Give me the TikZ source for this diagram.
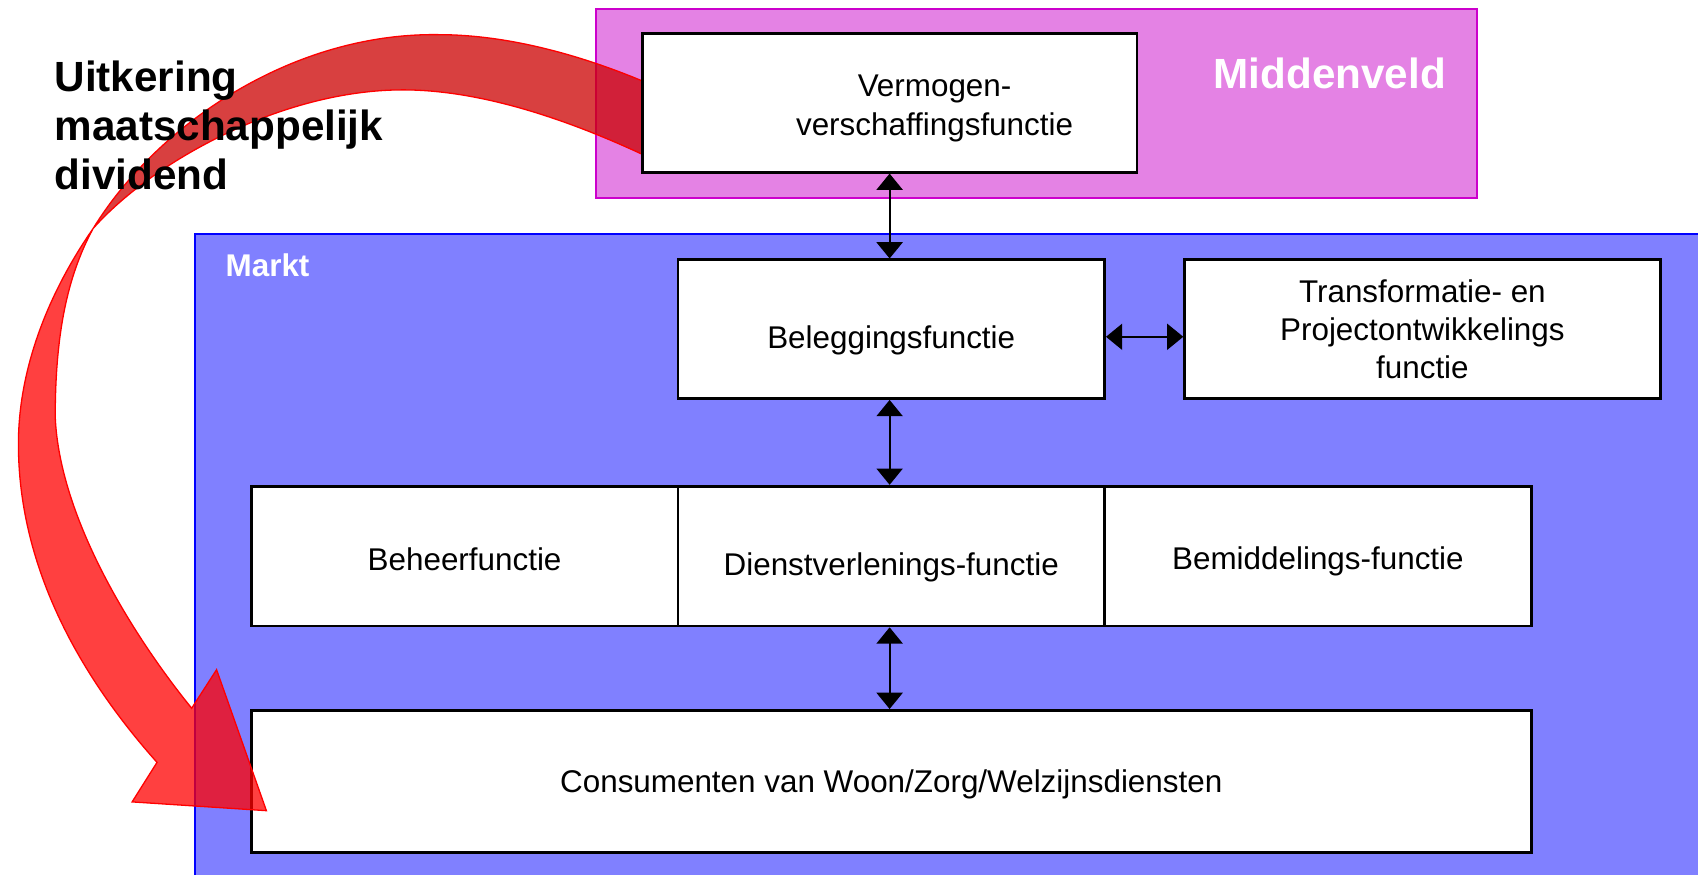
\documentclass[tikz,border=0pt]{standalone}
\usepackage{fontspec}
\setmainfont{Liberation Sans}
\usetikzlibrary{arrows.meta}
\definecolor{pinkfill}{RGB}{228,130,228}
\definecolor{pinkline}{RGB}{204,0,204}
\definecolor{bluefill}{RGB}{128,128,255}
\definecolor{blueline}{RGB}{0,0,255}
\definecolor{backred}{RGB}{203,0,0}
\begin{document}
\begin{tikzpicture}[x=0.5pt,y=-0.5pt,
  fbox/.style={draw=black, line width=1.3pt, fill=white, inner sep=0pt, align=center, font=\fontsize{14.5}{17.5}\selectfont},
  dblarrow/.style={line width=0.95pt, {Triangle[length=7.5pt,width=12pt]}-{Triangle[length=7.5pt,width=12pt]}},
  ribbonback/.style={fill=backred, fill opacity=0.75, draw=red, line width=0.6pt},
  ribbonfront/.style={fill=red, fill opacity=0.75, draw=red, line width=0.6pt},
]
\useasboundingbox (0,0) rectangle (1568,808);
\fill[white] (0,0) rectangle (1568,808);
% regions
\draw[pinkline, fill=pinkfill, line width=0.9pt] (550,8) rectangle (1364,183);
\draw[blueline, fill=bluefill, line width=0.8pt] (180,216) rectangle (1590,830);
\node[anchor=base, text=white, font=\bfseries\fontsize{19.5}{23}\selectfont] (midden) at (1228,81.5) {Middenveld};
\node[anchor=base west, text=white, inner sep=0pt, font=\bfseries\fontsize{14.5}{17}\selectfont] (markt) at (208,255.5) {Markt};
% bottom box (under the ribbon)
\node[fbox, minimum width=591pt, minimum height=65.5pt, text height=13pt, text depth=3pt] (cons) at (823,721.5) {Consumenten van Woon/Zorg/Welzijnsdiensten};
% ribbon arrow: back part
\filldraw[ribbonback] (86,211) .. controls (145,115) and (270,30) .. (405,32)
  .. controls (480,32) and (560,58) .. (625,89)
  -- (625,158) .. controls (540,115) and (450,83) .. (372,83)
  .. controls (260,83) and (140,150) .. (86,211) -- cycle;
% ribbon arrow: front part with head
\filldraw[ribbonfront] (86,211) .. controls (45,270) and (17,340) .. (17,410)
  .. controls (17,520) and (70,620) .. (145,704)
  -- (122,740.5) -- (246,748.6) -- (200,618.4) -- (177,654)
  .. controls (125,590) and (55,480) .. (51,385)
  .. controls (51,300) and (65,250) .. (86,211) -- cycle;
% boxes
\node[fbox, minimum width=228.5pt, minimum height=64pt] (verm) at (821.5,95) {};
\node[align=center, inner sep=0pt, font=\fontsize{14.5}{18}\selectfont] (vermtext) at (863,100) {Vermogen-\\verschaffingsfunctie};
\node[fbox, minimum width=197pt, minimum height=64pt, text height=20.5pt, text depth=3pt] (bel) at (823,304) {Beleggingsfunctie};
\node[fbox, minimum width=219.5pt, minimum height=64pt] (trans) at (1313.5,304) {Transformatie- en\\Projectontwikkelings\\functie};
\node[fbox, minimum width=197pt, minimum height=64.5pt, text height=16pt, text depth=3pt] (beh) at (429,513.5) {Beheerfunctie};
\node[fbox, minimum width=197pt, minimum height=64.5pt, text height=21pt, text depth=3pt] (dien) at (823,513.5) {Dienstverlenings-functie};
\node[fbox, minimum width=197pt, minimum height=64.5pt, text height=15pt, text depth=3pt] (bem) at (1217,513.5) {Bemiddelings-functie};
% connectors
\draw[dblarrow] (verm.south) -- (verm.south |- bel.north);
\draw[dblarrow] ([yshift=-3.5pt]bel.east) -- ([yshift=-3.5pt]trans.west);
\draw[dblarrow] (verm.south |- bel.south) -- (verm.south |- dien.north);
\draw[dblarrow] (verm.south |- dien.south) -- (verm.south |- cons.north);
% label of the ribbon
\node[anchor=north west, align=left, inner sep=0pt, font=\bfseries\fontsize{19.5}{22.75}\selectfont] (uitk) at (50,55.5) {Uitkering\\maatschappelijk\\dividend};
\end{tikzpicture}
\end{document}
